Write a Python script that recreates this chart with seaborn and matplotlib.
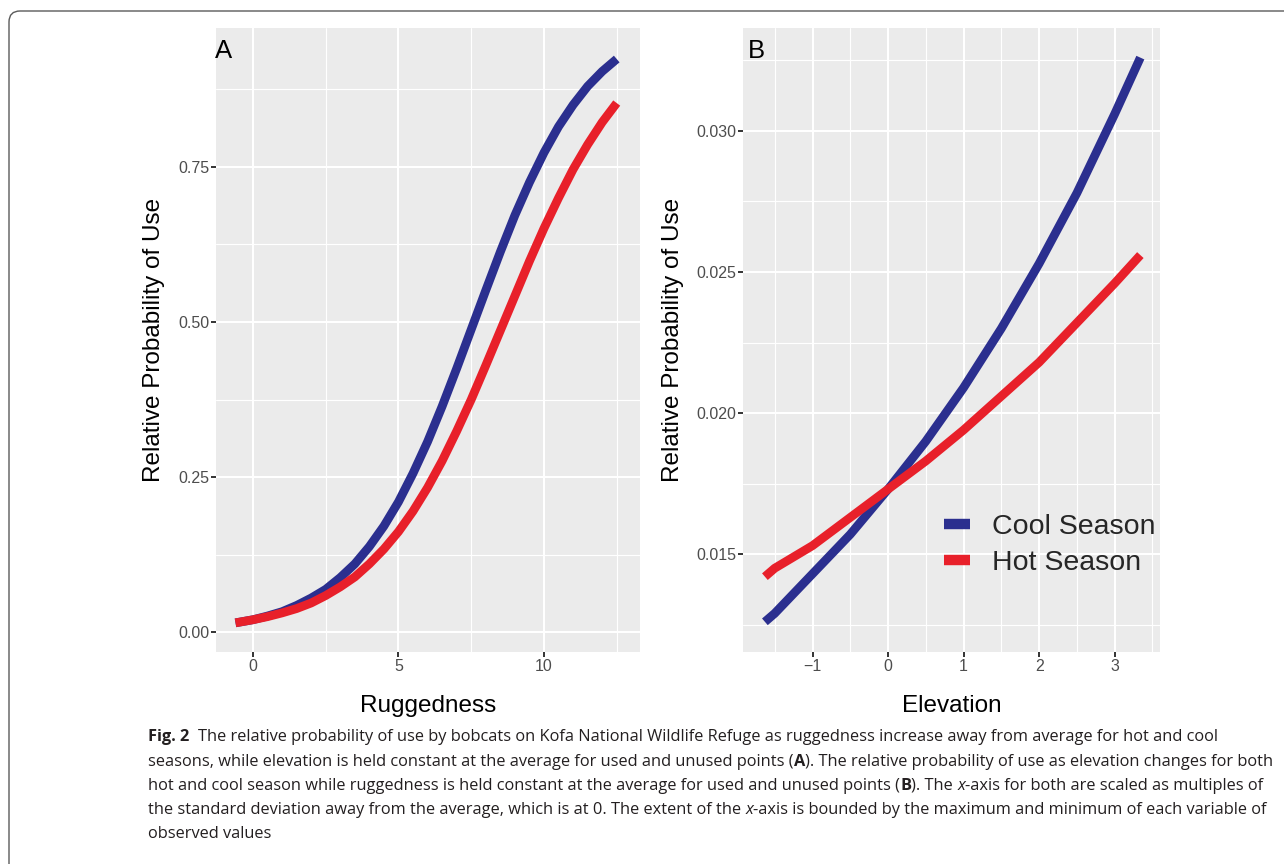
import numpy as np
import pandas as pd
import matplotlib
matplotlib.use("Agg")
import matplotlib.pyplot as plt
from matplotlib.lines import Line2D
from matplotlib.patches import FancyBboxPatch
from matplotlib.transforms import IdentityTransform
import seaborn as sns

# Panel A - ruggedness (sd from average)
rug_x = [-0.6, 0, 0.5, 1, 1.5, 2, 2.5, 3, 3.5, 4, 4.5, 5, 5.5, 6, 6.5, 7,
         7.5, 8, 8.5, 9, 9.5, 10, 10.5, 11, 11.5, 12, 12.5]
rug_cool = [0.015, 0.020, 0.026, 0.033, 0.043, 0.055, 0.069, 0.088, 0.110, 0.138,
            0.171, 0.210, 0.256, 0.307, 0.364, 0.425, 0.488, 0.551, 0.613, 0.672,
            0.725, 0.773, 0.815, 0.850, 0.880, 0.904, 0.924]
rug_hot = [0.015, 0.020, 0.025, 0.031, 0.038, 0.047, 0.059, 0.073, 0.089, 0.110,
           0.134, 0.162, 0.195, 0.233, 0.276, 0.324, 0.375, 0.430, 0.486, 0.542,
           0.598, 0.651, 0.700, 0.746, 0.786, 0.822, 0.853]

# Panel B - elevation (sd from average)
elev_x = [-1.63, -1.5, -1, -0.5, 0, 0.5, 1, 1.5, 2, 2.5, 3, 3.34]
elev_cool = [0.0126, 0.0129, 0.0143, 0.0157, 0.0173, 0.0190, 0.0209, 0.0230,
             0.0253, 0.0278, 0.0306, 0.0326]
elev_hot = [0.0142, 0.0145, 0.0153, 0.0163, 0.0173, 0.0183, 0.0194, 0.0206,
            0.0218, 0.0232, 0.0246, 0.0256]

seasons = ["Cool Season", "Hot Season"]
colors = {"Cool Season": "#2B2F8F", "Hot Season": "#E8202A"}

rug_ticks = [0, 5, 10]
rug_yticks = [0.0, 0.25, 0.50, 0.75]
rug_ylabels = ["0.00", "0.25", "0.50", "0.75"]
elev_ticks = [-1, 0, 1, 2, 3]
elev_yticks = [0.015, 0.020, 0.025, 0.030]
elev_ylabels = ["0.015", "0.020", "0.025", "0.030"]

caption = [
    [("Fig. 2", "bold", False),
     ("The relative probability of use by bobcats on Kofa National Wildlife Refuge as ruggedness "
      "increase away from average for hot and cool", "normal", "wide")],
    [("seasons, while elevation is held constant at the average for used and unused points (", "normal", False),
     ("A", "bold", False),
     ("). The relative probability of use as elevation changes for both", "normal", False)],
    [("hot and cool season while ruggedness is held constant at the average for used and unused points (", "normal", False),
     ("B", "bold", False),
     ("). The", "normal", False),
     ("x", "italic", True),
     ("-axis for both are scaled as multiples of", "normal", False)],
    [("the standard deviation away from the average, which is at 0. The extent of the", "normal", False),
     ("x", "italic", True),
     ("-axis is bounded by the maximum and minimum of each variable of", "normal", False)],
    [("observed values", "normal", False)],
]


def long_form(x, cool, hot):
    return pd.concat([
        pd.DataFrame({"x": x, "p": cool, "season": "Cool Season"}),
        pd.DataFrame({"x": x, "p": hot, "season": "Hot Season"}),
    ], ignore_index=True)


sns.set_theme(style="darkgrid", rc={"axes.facecolor": "#EBEBEB"})
plt.rcParams["font.family"] = ["Liberation Sans", "DejaVu Sans"]

W, H = 1284, 864
fig = plt.figure(figsize=(W / 100, H / 100), dpi=100)
fig.patch.set_facecolor("white")


def px_axes(l, t, r, b):
    return fig.add_axes([l / W, 1 - b / H, (r - l) / W, (b - t) / H])


axA = px_axes(216, 28, 640, 652)
axB = px_axes(743, 28, 1160, 652)

sns.lineplot(data=long_form(rug_x, rug_cool, rug_hot), x="x", y="p", hue="season",
             hue_order=seasons, palette=colors, lw=6.3, ax=axA, legend=False,
             solid_capstyle="butt")
sns.lineplot(data=long_form(elev_x, elev_cool, elev_hot), x="x", y="p", hue="season",
             hue_order=seasons, palette=colors, lw=6.3, ax=axB, legend=False,
             solid_capstyle="butt")

axA.set_xlim(-1.27, 13.3)
axA.set_ylim(-0.032, 0.974)
axA.set_xticks(rug_ticks)
axA.set_xticks([2.5, 7.5, 12.5], minor=True)
axA.set_yticks(rug_yticks, rug_ylabels)
axA.set_yticks([0.125, 0.375, 0.625, 0.875], minor=True)

axB.set_xlim(-1.92, 3.60)
axB.set_ylim(0.01153, 0.03365)
axB.set_xticks(elev_ticks, ["\u22121", "0", "1", "2", "3"])
axB.set_xticks([-1.5, -0.5, 0.5, 1.5, 2.5, 3.5], minor=True)
axB.set_yticks(elev_yticks, elev_ylabels)
axB.set_yticks([0.0125, 0.0175, 0.0225, 0.0275, 0.0325], minor=True)

for ax, xl, lab, lx in [(axA, "Ruggedness", "A", 215), (axB, "Elevation", "B", 748)]:
    ax.grid(which="major", color="white", lw=1.5)
    ax.grid(which="minor", color="white", lw=0.8)
    ax.tick_params(which="major", bottom=True, left=True, length=3.5, width=1.4,
                   color="#333333", labelcolor="#4D4D4D", labelsize=11.5, pad=1.5)
    ax.tick_params(which="minor", length=0)
    for s in ax.spines.values():
        s.set_visible(False)
    ax.set_xlabel(xl, fontsize=17.5, color="black", labelpad=15)
    ax.set_ylabel("Relative Probability of Use", fontsize=17.5, color="black", labelpad=9)
    fig.text(lx / W, 1 - 58 / H, lab, fontsize=18.5, color="black", va="baseline")

handles = [Line2D([], [], color=colors[s], lw=7.5, solid_capstyle="butt") for s in seasons]
axB.legend(handles, seasons, loc="upper left", bbox_to_anchor=(944 / W, 1 - 514 / H),
           bbox_transform=fig.transFigure, frameon=False, fontsize=20.5,
           handlelength=0.9, handletextpad=0.8, labelspacing=0.35,
           borderpad=0, borderaxespad=0)

# rounded frame around the figure (only top/left edges fall inside the image)
frame = FancyBboxPatch((9, -60), 1500, H - 11 + 60, boxstyle="round,pad=0,rounding_size=11",
                       transform=IdentityTransform(), fill=False, ec="#5A5A5A", lw=1.0)
fig.add_artist(frame)

# caption, sized so that the second line spans the reference width
renderer = fig.canvas.get_renderer()
cap_font = ["Open Sans", "DejaVu Sans"]


def width_of(txt, size, weight="normal", style="normal"):
    t = fig.text(0, 0, txt, fontsize=size, family=cap_font, weight=weight, style=style)
    w = t.get_window_extent(renderer).width
    t.remove()
    return w


def line_width(parts, size):
    sp = width_of("a a", size) - width_of("aa", size)
    w = 0
    for txt, kind, gap in parts:
        if gap == "wide":
            w += sp * 2
        elif gap:
            w += sp
        w += width_of(txt, size, "bold" if kind == "bold" else "normal",
                      "italic" if kind == "italic" else "normal")
    return w


cap_size = 10 * (1277 - 148) / line_width(caption[1], 10)
space = width_of("a a", cap_size) - width_of("aa", cap_size)
baselines = [741, 765.5, 790, 814, 838]
for parts, yb in zip(caption, baselines):
    x = 148
    for txt, kind, gap in parts:
        if gap == "wide":
            x += space * 2
        elif gap:
            x += space
        t = fig.text(x / W, 1 - yb / H, txt, fontsize=cap_size, family=cap_font,
                     weight="bold" if kind == "bold" else "normal",
                     style="italic" if kind == "italic" else "normal",
                     color="#231F20", va="baseline")
        x += t.get_window_extent(renderer).width

fig.savefig("out.png", dpi=100)
